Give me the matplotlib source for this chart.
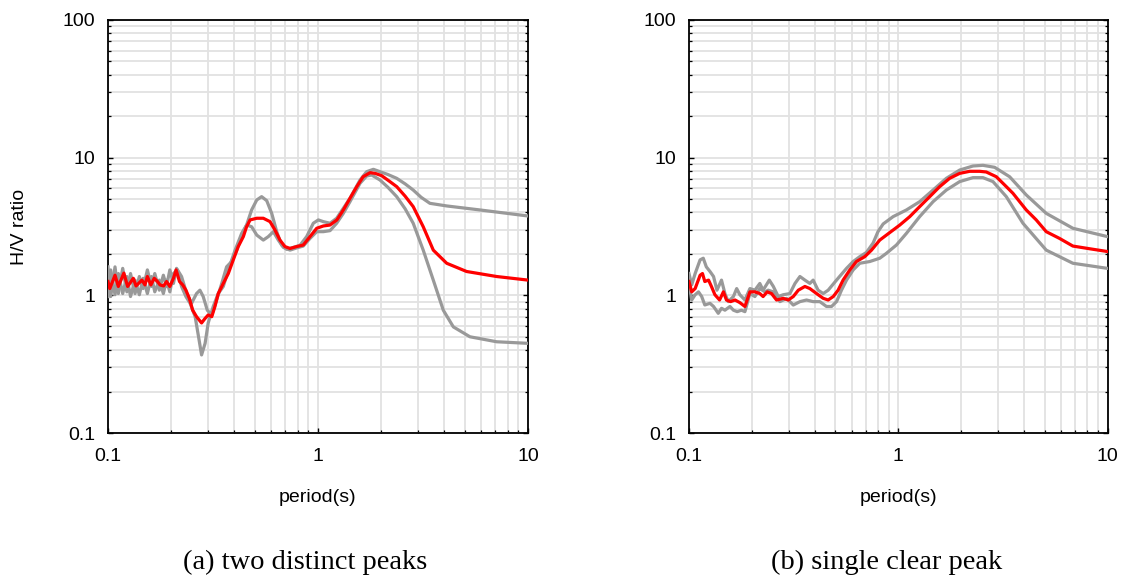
import matplotlib
matplotlib.use("Agg")
import matplotlib.pyplot as plt
from matplotlib.ticker import LogLocator, FuncFormatter, NullFormatter

# ---------------- data: (a) two distinct peaks ----------------
a_mean_T = [0.100, 0.102, 0.108, 0.112, 0.119, 0.124, 0.132, 0.136, 0.145, 0.150,
            0.154, 0.160, 0.166, 0.172, 0.177, 0.184, 0.190, 0.197, 0.205, 0.211,
            0.219, 0.227, 0.235, 0.244, 0.253, 0.264, 0.279, 0.290, 0.300, 0.312,
            0.323, 0.335, 0.354, 0.374, 0.395, 0.417, 0.441, 0.457, 0.475, 0.511,
            0.549, 0.591, 0.624, 0.659, 0.696, 0.736, 0.791, 0.851, 0.916, 0.986,
            1.06, 1.14, 1.23, 1.32, 1.42, 1.53, 1.64, 1.77, 1.87, 2.01,
            2.20, 2.37, 2.60, 2.84, 3.17, 3.54, 4.10, 5.10, 7.09, 10.0]
a_mean_hv = [1.26, 1.12, 1.40, 1.16, 1.45, 1.16, 1.33, 1.17, 1.29, 1.19,
             1.37, 1.19, 1.33, 1.26, 1.19, 1.17, 1.26, 1.16, 1.33, 1.53,
             1.26, 1.19, 1.09, 0.95, 0.78, 0.70, 0.63, 0.68, 0.72, 0.70,
             0.83, 1.03, 1.22, 1.44, 1.81, 2.26, 2.67, 3.15, 3.53, 3.63,
             3.63, 3.43, 2.98, 2.52, 2.26, 2.19, 2.26, 2.32, 2.67, 3.07,
             3.19, 3.24, 3.53, 4.17, 5.07, 6.16, 7.27, 7.78, 7.69, 7.40,
             6.70, 6.16, 5.25, 4.41, 3.15, 2.13, 1.71, 1.49, 1.37, 1.29]

a_upper_T = [0.100, 0.103, 0.108, 0.112, 0.1175, 0.123, 0.128, 0.1345, 0.141, 0.147,
             0.154, 0.161, 0.167, 0.1755, 0.1835, 0.190, 0.197, 0.205, 0.212, 0.224,
             0.237, 0.250, 0.264, 0.274, 0.284, 0.297, 0.312, 0.329, 0.348, 0.367,
             0.388, 0.410, 0.433, 0.457, 0.483, 0.511, 0.539, 0.570, 0.602, 0.636,
             0.671, 0.709, 0.763, 0.821, 0.883, 0.950, 1.004, 1.060, 1.141, 1.227,
             1.320, 1.420, 1.585, 1.705, 1.835, 1.974, 2.15, 2.37, 2.60, 2.84,
             3.10, 3.41, 4.10, 5.91, 10.0]
a_upper_hv = [1.61, 0.98, 1.61, 1.03, 1.57, 1.06, 1.44, 1.03, 1.37, 1.12,
              1.53, 1.16, 1.44, 1.09, 1.40, 1.16, 1.53, 1.22, 1.57, 1.37,
              1.03, 0.875, 1.03, 1.09, 0.98, 0.78, 0.72, 0.925, 1.22, 1.61,
              1.76, 2.13, 2.67, 3.24, 4.17, 4.93, 5.21, 4.87, 3.94, 2.90,
              2.32, 2.16, 2.23, 2.31, 2.67, 3.34, 3.53, 3.43, 3.34, 3.63,
              4.29, 5.07, 6.88, 7.91, 8.23, 7.91, 7.55, 7.08, 6.45, 5.82,
              5.15, 4.66, 4.46, 4.17, 3.77]

a_lower_T = [0.100, 0.103, 0.108, 0.112, 0.1175, 0.123, 0.128, 0.1345, 0.141, 0.147,
             0.154, 0.161, 0.167, 0.1755, 0.1835, 0.190, 0.197, 0.205, 0.214, 0.224,
             0.235, 0.246, 0.260, 0.269, 0.279, 0.290, 0.300, 0.317, 0.335, 0.354,
             0.374, 0.403, 0.433, 0.457, 0.483, 0.511, 0.549, 0.580, 0.613, 0.647,
             0.684, 0.736, 0.791, 0.851, 0.916, 0.986, 1.060, 1.141, 1.227, 1.320,
             1.420, 1.585, 1.705, 1.802, 1.974, 2.15, 2.37, 2.60, 2.84, 3.17,
             3.54, 3.95, 4.41, 5.29, 7.09, 10.0]
a_lower_hv = [0.98, 1.53, 1.01, 1.44, 1.03, 1.37, 0.98, 1.29, 1.01, 1.33,
              1.03, 1.37, 1.06, 1.29, 1.03, 1.29, 1.06, 1.44, 1.53, 1.16,
              0.98, 0.875, 0.70, 0.515, 0.369, 0.448, 0.63, 0.83, 1.03, 1.16,
              1.53, 2.13, 2.82, 3.24, 3.15, 2.74, 2.52, 2.67, 2.90, 2.52,
              2.23, 2.13, 2.21, 2.28, 2.59, 2.90, 2.90, 2.95, 3.34, 3.94,
              4.79, 6.51, 7.36, 7.48, 6.88, 6.10, 5.21, 4.25, 3.34, 2.13,
              1.29, 0.78, 0.59, 0.50, 0.46, 0.448]

# ---------------- data: (b) single clear peak ----------------
b_mean_T = [0.100, 0.103, 0.107, 0.113, 0.116, 0.119, 0.124, 0.128, 0.133, 0.140,
            0.146, 0.151, 0.158, 0.166, 0.175, 0.185, 0.1955, 0.2065, 0.218, 0.226,
            0.2365, 0.248, 0.262, 0.282, 0.298, 0.315, 0.333, 0.358, 0.378, 0.407,
            0.438, 0.4625, 0.489, 0.516, 0.545, 0.587, 0.631, 0.692, 0.745, 0.816,
            0.878, 0.945, 1.017, 1.135, 1.266, 1.414, 1.578, 1.761, 1.966, 2.194,
            2.449, 2.635, 2.942, 3.284, 3.533, 4.091, 4.565, 5.096, 5.901, 6.832,
            8.207, 10.0]
b_mean_hv = [1.26, 1.06, 1.12, 1.40, 1.44, 1.26, 1.29, 1.16, 1.01, 0.925,
             1.06, 0.925, 0.90, 0.925, 0.885, 0.83, 1.06, 1.06, 1.03, 0.98,
             1.06, 1.03, 0.925, 0.951, 0.925, 0.98, 1.09, 1.16, 1.12, 1.03,
             0.951, 0.925, 0.98, 1.09, 1.29, 1.53, 1.76, 1.91, 2.13, 2.52,
             2.74, 2.98, 3.24, 3.73, 4.41, 5.21, 6.16, 7.08, 7.69, 7.96,
             7.96, 7.87, 7.27, 6.16, 5.51, 4.17, 3.53, 2.90, 2.59, 2.28,
             2.18, 2.08]

b_upper_T = [0.100, 0.103, 0.107, 0.113, 0.117, 0.121, 0.126, 0.131, 0.136, 0.143,
             0.1485, 0.154, 0.163, 0.169, 0.175, 0.185, 0.1955, 0.2065, 0.218, 0.226,
             0.242, 0.253, 0.267, 0.282, 0.3035, 0.321, 0.339, 0.358, 0.378, 0.392,
             0.414, 0.438, 0.4625, 0.507, 0.566, 0.609, 0.655, 0.705, 0.7585, 0.80,
             0.847, 0.945, 1.094, 1.266, 1.467, 1.698, 1.966, 2.276, 2.540, 2.888,
             3.406, 4.091, 5.096, 6.832, 10.0]
b_upper_hv = [1.44, 1.19, 1.44, 1.81, 1.86, 1.61, 1.49, 1.37, 1.09, 1.29,
              1.03, 0.90, 0.98, 1.12, 1.01, 0.925, 1.12, 1.09, 1.22, 1.09,
              1.29, 1.16, 0.98, 1.01, 1.03, 1.22, 1.37, 1.29, 1.22, 1.29,
              1.09, 1.03, 1.09, 1.29, 1.57, 1.76, 1.91, 2.05, 2.40, 2.90,
              3.30, 3.73, 4.17, 4.79, 5.82, 7.08, 8.13, 8.70, 8.80, 8.51,
              7.27, 5.36, 3.94, 3.07, 2.67]

b_lower_T = [0.100, 0.103, 0.107, 0.111, 0.115, 0.119, 0.126, 0.131, 0.138, 0.143,
             0.1485, 0.157, 0.163, 0.170, 0.178, 0.185, 0.1955, 0.2065, 0.218, 0.2306,
             0.239, 0.253, 0.272, 0.293, 0.315, 0.339, 0.3645, 0.392, 0.422, 0.454,
             0.480, 0.507, 0.5355, 0.566, 0.609, 0.655, 0.731, 0.816, 0.878, 0.980,
             1.094, 1.266, 1.467, 1.698, 1.966, 2.276, 2.540, 2.836, 3.284, 3.943,
             5.096, 6.832, 10.0]
b_lower_hv = [1.22, 0.925, 1.01, 1.06, 0.98, 0.851, 0.875, 0.83, 0.74, 0.805,
              0.78, 0.83, 0.78, 0.761, 0.78, 0.761, 1.03, 0.98, 1.12, 1.06,
              1.09, 1.06, 0.90, 0.951, 0.85, 0.90, 0.925, 0.90, 0.90, 0.83,
              0.83, 0.90, 1.09, 1.29, 1.53, 1.71, 1.76, 1.86, 2.02, 2.32,
              2.82, 3.73, 4.79, 5.82, 6.70, 7.16, 7.16, 6.70, 5.21, 3.34,
              2.13, 1.71, 1.57]

x_ticks = [0.1, 1, 10]
y_ticks = [0.1, 1, 10, 100]
captions = ["(a) two distinct peaks", "(b) single clear peak"]
xlabel = "period(s)"
ylabel = "H/V ratio"

GRAY = "#999999"
RED = "#ff0000"
GRID = "#e2e2e2"

plt.rcParams["font.family"] = ["Liberation Sans", "DejaVu Sans"]

fig = plt.figure(figsize=(11.29, 5.80), dpi=100)
W, H = 1129, 580


def make_axes(left_px, right_px):
    top_px, bottom_px = 20, 433
    return fig.add_axes([left_px / W, 1 - bottom_px / H,
                         (right_px - left_px) / W, (bottom_px - top_px) / H])


axes = [make_axes(108, 528), make_axes(689, 1107.5)]
datasets = [
    (a_upper_T, a_upper_hv, a_lower_T, a_lower_hv, a_mean_T, a_mean_hv),
    (b_upper_T, b_upper_hv, b_lower_T, b_lower_hv, b_mean_T, b_mean_hv),
]

fmt = FuncFormatter(lambda v, _: f"{v:g}")

for i, (ax, d) in enumerate(zip(axes, datasets)):
    uT, uV, lT, lV, mT, mV = d
    ax.plot(uT, uV, color=GRAY, lw=2.3, solid_joinstyle="round", zorder=3)
    ax.plot(lT, lV, color=GRAY, lw=2.3, solid_joinstyle="round", zorder=3)
    ax.plot(mT, mV, color=RED, lw=2.3, solid_joinstyle="round", zorder=4)
    ax.set_xscale("log")
    ax.set_yscale("log")
    ax.set_xlim(0.1, 10)
    ax.set_ylim(0.1, 100)
    ax.set_xticks(x_ticks)
    ax.set_yticks(y_ticks)
    ax.xaxis.set_major_formatter(fmt)
    ax.yaxis.set_major_formatter(fmt)
    ax.xaxis.set_minor_locator(LogLocator(base=10, subs=range(2, 10)))
    ax.yaxis.set_minor_locator(LogLocator(base=10, subs=range(2, 10)))
    ax.xaxis.set_minor_formatter(NullFormatter())
    ax.yaxis.set_minor_formatter(NullFormatter())
    ax.grid(True, which="both", color=GRID, lw=1.3, zorder=0)
    ax.set_axisbelow(True)
    for s in ax.spines.values():
        s.set_linewidth(1.3)
        s.set_color("black")
    ax.tick_params(which="both", direction="in", top=False, right=True,
                   labelsize=14, color="black")
    ax.tick_params(axis="y", which="both", pad=9)
    ax.tick_params(axis="x", which="both", pad=11)
    ax.tick_params(which="major", length=3.5, width=1.0)
    ax.tick_params(which="minor", length=2.0, width=0.9)
    ax.set_xlabel(xlabel, fontsize=14)
    ax.xaxis.set_label_coords(0.5, -0.135)
    if i == 0:
        ax.set_ylabel(ylabel, fontsize=14)
        ax.yaxis.set_label_coords(-0.19, 0.5)

fig.text(305 / W, 1 - 562 / H, captions[0], family=["Liberation Serif", "DejaVu Serif"],
         fontsize=20.5, ha="center", va="center")
fig.text(887 / W, 1 - 562 / H, captions[1], family=["Liberation Serif", "DejaVu Serif"],
         fontsize=20.5, ha="center", va="center")

fig.savefig("out.png", dpi=100)
